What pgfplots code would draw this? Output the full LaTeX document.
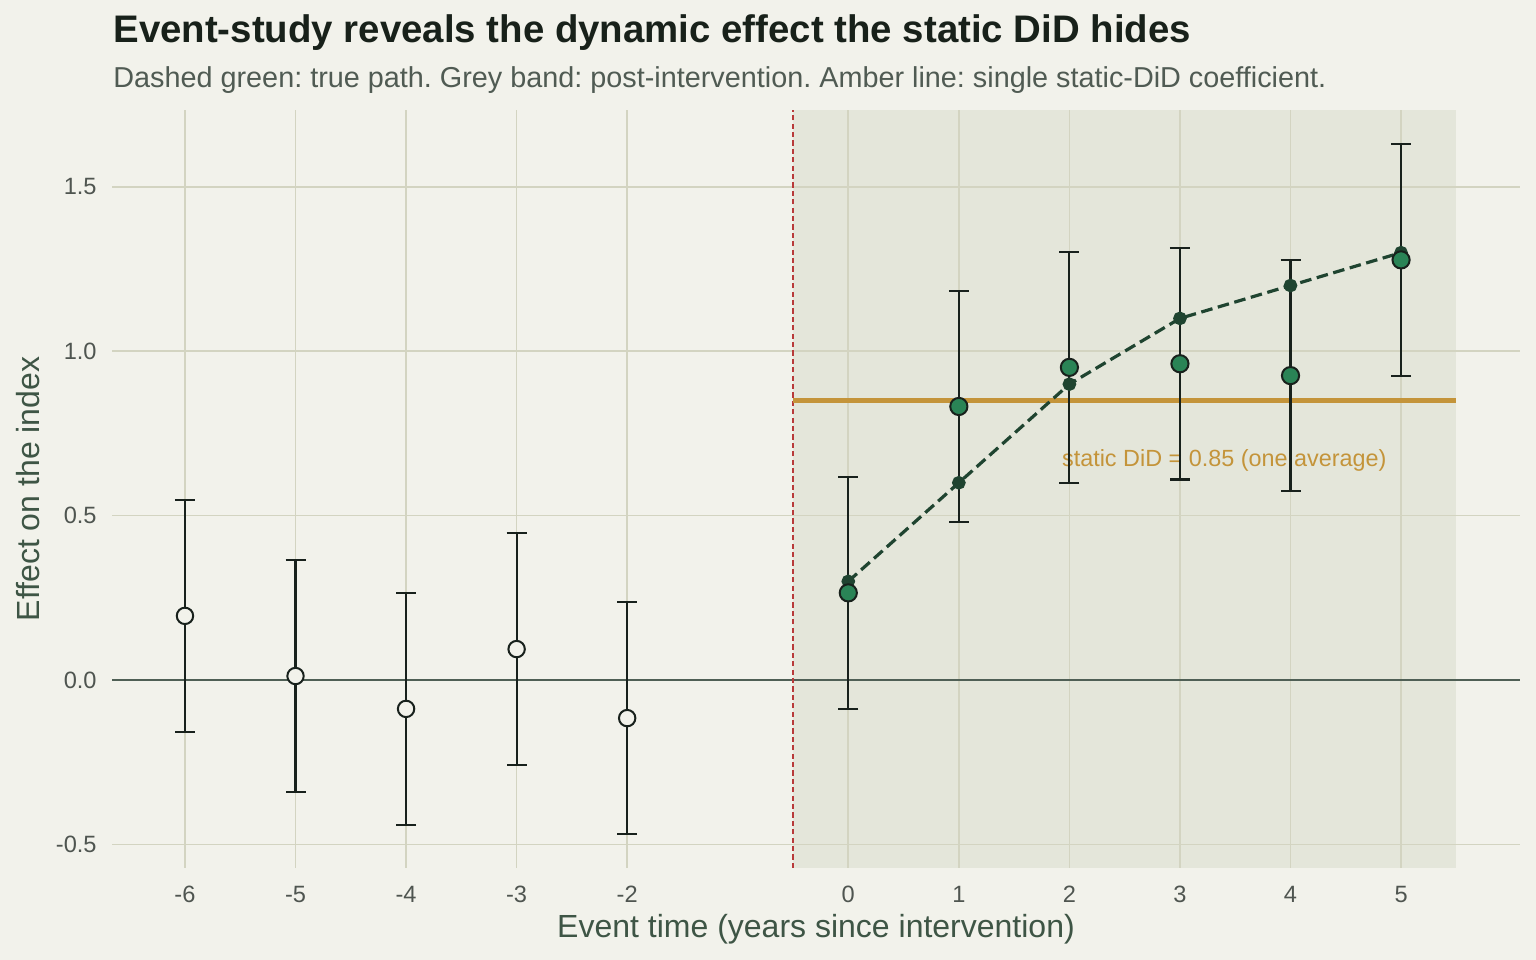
\documentclass[border=0pt]{standalone}
\usepackage{fontspec}
\setmainfont{Liberation Sans}
\usepackage{pgfplots}
\pgfplotsset{compat=1.18}
\usepackage{pgfplotstable}

\definecolor{bgcol}{HTML}{F2F2EB}
\definecolor{bandcol}{HTML}{E4E6DA}
\definecolor{gridcol}{HTML}{D3D4C1}
\definecolor{zerocol}{HTML}{4F5F55}
\definecolor{eventred}{HTML}{B83A3A}
\definecolor{amber}{HTML}{C4943A}
\definecolor{estgreen}{HTML}{2A8456}
\definecolor{inkdark}{HTML}{18211C}
\definecolor{truecol}{HTML}{1F4430}
\definecolor{titlecol}{HTML}{18211A}
\definecolor{subcol}{HTML}{505B53}
\definecolor{labcol}{HTML}{3E5545}
\definecolor{tickcol}{HTML}{4F5550}
\pagecolor{bgcol}
\frenchspacing

% event-study estimates with 95% intervals (half-width)
\pgfplotstableread{
t    est     ci
-6   0.195   0.352
-5   0.012   0.352
-4  -0.088   0.352
-3   0.094   0.352
-2  -0.116   0.352
}\prerows
\pgfplotstableread{
t    est     ci
0    0.265   0.352
1    0.832   0.352
2    0.951   0.352
3    0.962   0.352
4    0.926   0.352
5    1.278   0.352
}\postrows
% true dynamic path
\pgfplotstableread{
t    eff
0    0.30
1    0.60
2    0.90
3    1.10
4    1.20
5    1.30
}\truepath

\begin{document}
\begin{tikzpicture}
\path (0,0) rectangle (768bp,480bp);

\node[anchor=base west, inner sep=0pt, font=\fontsize{19.2bp}{22bp}\selectfont\bfseries, text=titlecol]
  at (56.5bp,458.5bp) {Event-study reveals the dynamic effect the static DiD hides};
\node[anchor=base west, inner sep=0pt, font=\fontsize{14.4bp}{17bp}\selectfont, text=subcol]
  at (56.5bp,436bp) {Dashed green: true path. Grey band: post-intervention. Amber line: single static-DiD coefficient.};

\begin{axis}[
  set layers,
  at={(56bp,46bp)}, anchor=south west,
  scale only axis, width=704bp, height=379bp,
  xmin=-6.66, xmax=6.076, ymin=-0.572, ymax=1.734,
  axis line style={draw=none},
  major tick length=0pt,
  xtick={-6,-5,-4,-3,-2,0,1,2,3,4,5},
  xticklabels={-6,-5,-4,-3,-2,0,1,2,3,4,5},
  ytick={-0.5,0,0.5,1,1.5},
  yticklabels={-0.5,0.0,0.5,1.0,1.5},
  grid=major,
  major grid style={draw=gridcol, line width=0.8bp},
  tick label style={font=\fontsize{11.8bp}{14bp}\selectfont, text=tickcol},
  xticklabel style={anchor=base, inner sep=0pt, yshift=-17bp},
  yticklabel style={anchor=east, inner sep=0pt, xshift=-7.5bp},
  every axis x label/.style={at={(axis description cs:0.5,-0.0923)}, anchor=base},
  every axis y label/.style={at={(axis description cs:-0.0518,0.5)}, rotate=90, anchor=base},
  label style={font=\fontsize{16bp}{19bp}\selectfont, text=labcol},
  xlabel={Event time (years since intervention)},
  ylabel={Effect on the index},
  clip=true,
]
% post-intervention band
\addplot[draw=none, fill=bandcol, on layer=axis background]
  coordinates {(-0.5,-0.572) (-0.5,1.734) (5.5,1.734) (5.5,-0.572)};

% zero reference
\addplot[zerocol, line width=1bp] coordinates {(-6.66,0) (6.076,0)};

% intervention date
\addplot[eventred, line width=1.4bp, dash pattern=on 2.6bp off 1.6bp]
  coordinates {(-0.5,-0.572) (-0.5,1.734)};

% single static-DiD coefficient
\addplot[amber, line width=2.4bp] coordinates {(-0.5,0.85) (5.5,0.85)};
\node[anchor=base west, inner sep=0pt, text=amber, font=\fontsize{11.7bp}{14bp}\selectfont]
  at (axis cs:1.93,0.648) {static DiD = 0.85 (one average)};

% true dynamic path
\addplot[truecol, line width=1.6bp, dash pattern=on 5.8bp off 2.8bp,
  mark=*, mark size=2.6bp, mark options={solid, fill=truecol, draw=truecol}]
  table[x=t, y=eff] {\truepath};

% pre-period estimates (open markers)
\addplot[only marks, mark=*, mark size=4.1bp,
  mark options={draw=inkdark, fill=bgcol, line width=1bp},
  error bars/.cd, y dir=both, y explicit,
  error bar style={inkdark, line width=1.05bp},
  error mark options={rotate=90, inkdark, line width=1.05bp, mark size=5bp}]
  table[x=t, y=est, y error=ci] {\prerows};

% post-period estimates (filled markers)
\addplot[only marks, mark=*, mark size=4.3bp,
  mark options={draw=inkdark, fill=estgreen, line width=1bp},
  error bars/.cd, y dir=both, y explicit,
  error bar style={inkdark, line width=1.05bp},
  error mark options={rotate=90, inkdark, line width=1.05bp, mark size=5bp}]
  table[x=t, y=est, y error=ci] {\postrows};
\end{axis}
\pgfresetboundingbox
\path[use as bounding box] (0,0) rectangle (768bp,480bp);
\end{tikzpicture}
\end{document}
